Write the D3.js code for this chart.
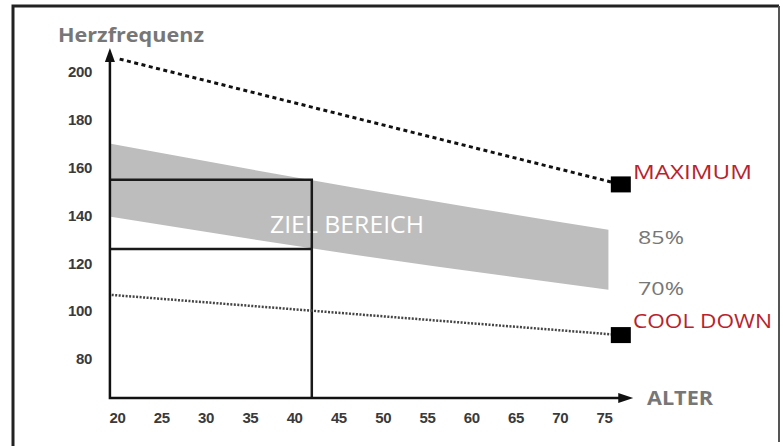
<!DOCTYPE html>
<html lang="de">
<head>
<meta charset="utf-8">
<title>Herzfrequenz nach Alter</title>
<script src="https://cdn.jsdelivr.net/npm/d3@7"></script>
<style>
  html, body { margin: 0; padding: 0; background: #fff; }
  svg { display: block; }
  .tick text { font-family: "Liberation Sans", Arial, sans-serif; font-weight: bold; font-size: 15px; fill: #3a3a3a; letter-spacing: -0.4px; }
</style>
</head>
<body>
<div id="chart"></div>
<script>
var WIDTH = 783;
var HEIGHT = 446;

// data
var ageTicks = [20, 25, 30, 35, 40, 45, 50, 55, 60, 65, 70, 75];
var hrTicks = [80, 100, 120, 140, 160, 180, 200];

var bandAges = [19.3, 47, 75.5];
var band85 = [170, 151.5, 134];
var band70 = [139.5, 123.5, 109];

var maxAges = [20.3, 76.9];
var maxHR = [205.4, 153];
var coolAges = [19.4, 76.9];
var coolHR = [106.8, 90];

var zoneAge = 42;
var zoneHigh = 155;
var zoneLow = 126;

// axis extents (in data units)
var ageMin = 19.2, ageMax = 78.3;
var hrMin = 63.7, hrMax = 210;

var svg = d3.select("#chart")
    .append("svg")
    .attr("width", WIDTH)
    .attr("height", HEIGHT);

var x = d3.scaleLinear().domain([20, 75]).range([117, 604]);
var y = d3.scaleLinear().domain([80, 200]).range([359, 72]);

// frame
svg.append("path")
    .attr("d", "M13,446 L13,6 L779,6")
    .attr("fill", "none").attr("stroke", "#222").attr("stroke-width", 3);
svg.append("line")
    .attr("x1", 779).attr("y1", 6).attr("x2", 779).attr("y2", 442)
    .attr("stroke", "#555").attr("stroke-width", 2);

// target band
var band = bandAges.map(function(a, i) { return { age: a, hi: band85[i], lo: band70[i] }; });
svg.append("path")
    .datum(band)
    .attr("fill", "#bdbdbd")
    .attr("d", d3.area()
        .curve(d3.curveNatural)
        .x(function(d) { return x(d.age); })
        .y0(function(d) { return y(d.lo); })
        .y1(function(d) { return y(d.hi); }));

svg.append("text")
    .attr("x", 270).attr("y", 233)
    .attr("font-family", "Open Sans, sans-serif")
    .attr("font-size", 23)
    .attr("fill", "#fff")
    .attr("textLength", 154)
    .attr("lengthAdjust", "spacingAndGlyphs")
    .text("ZIEL BEREICH");

// zone box
svg.append("path")
    .attr("fill", "none").attr("stroke", "#1a1a1a").attr("stroke-width", 2.5)
    .attr("d", "M" + x(ageMin) + "," + y(zoneHigh) + " H" + x(zoneAge) + " V" + y(hrMin) +
               " M" + x(ageMin) + "," + y(zoneLow) + " H" + x(zoneAge));

// max line
var line = d3.line().x(function(d) { return x(d[0]); }).y(function(d) { return y(d[1]); });
svg.append("path")
    .datum(d3.zip(maxAges, maxHR))
    .attr("fill", "none").attr("stroke", "#111").attr("stroke-width", 3)
    .attr("stroke-dasharray", "4,3.5")
    .attr("d", line);

// cool down line
svg.append("path")
    .datum(d3.zip(coolAges, coolHR))
    .attr("fill", "none").attr("stroke", "#444").attr("stroke-width", 2.5)
    .attr("stroke-dasharray", "2,1.5")
    .attr("d", line);

// end markers
[[maxAges[1], maxHR[1]], [coolAges[1], coolHR[1]]].forEach(function(p) {
    svg.append("rect")
        .attr("x", x(p[0]) - 10).attr("y", y(p[1]) - 8)
        .attr("width", 20).attr("height", 16)
        .attr("fill", "#000");
});

// axes
var ox = x(ageMin), oy = y(hrMin);
svg.append("path")
    .attr("fill", "none").attr("stroke", "#111").attr("stroke-width", 2.5)
    .attr("d", "M" + ox + "," + (y(hrMax) + 8) + " V" + oy + " H" + (x(ageMax) - 10));
svg.append("path")
    .attr("fill", "#111")
    .attr("d", "M" + ox + "," + y(hrMax) + " l-5,14 l10,0 z");
svg.append("path")
    .attr("fill", "#111")
    .attr("d", "M" + x(ageMax) + "," + oy + " l-15,-5 l0,10 z");

svg.append("g")
    .attr("transform", "translate(0," + oy + ")")
    .call(d3.axisBottom(x).tickValues(ageTicks).tickSize(0).tickPadding(14))
    .call(function(g) { g.select(".domain").remove(); });

svg.append("g")
    .attr("transform", "translate(" + ox + ",0)")
    .call(d3.axisLeft(y).tickValues(hrTicks).tickSize(0).tickPadding(18))
    .call(function(g) { g.select(".domain").remove(); });

// labels
function label(txt, lx, ly, size, color, weight, len) {
    svg.append("text")
        .attr("x", lx).attr("y", ly)
        .attr("font-family", "Open Sans, sans-serif")
        .attr("font-size", size)
        .attr("font-weight", weight)
        .attr("fill", color)
        .attr("textLength", len)
        .attr("lengthAdjust", "spacingAndGlyphs")
        .text(txt);
}
label("Herzfrequenz", 58, 42, 19, "#777", "bold", 146);
label("ALTER", 647, 405, 19, "#777", "bold", 66);
label("MAXIMUM", 633, 179, 20, "#b9222c", "normal", 119);
label("85%", 638, 244, 19, "#777", "normal", 46);
label("70%", 638, 295, 19, "#777", "normal", 46);
label("COOL DOWN", 633, 328, 20, "#b9222c", "normal", 139);
</script>
</body>
</html>
